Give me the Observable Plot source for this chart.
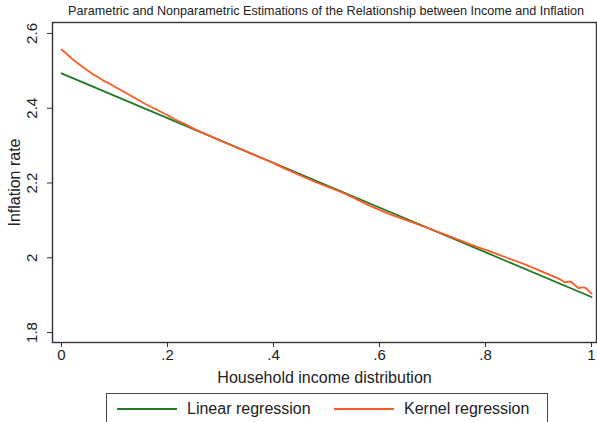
<!DOCTYPE html>
<html>
<head>
<meta charset="utf-8">
<script src="https://cdn.jsdelivr.net/npm/d3@7"></script>
<script src="https://cdn.jsdelivr.net/npm/@observablehq/plot@0.6"></script>
<style>
  html, body { margin: 0; padding: 0; background: #fff; }
  body { width: 597px; height: 422px; overflow: hidden; position: relative; font-family: "Liberation Sans", Arial, sans-serif; color: #222; }
  #title { position: absolute; top: 0; left: 0; width: 597px; height: 20px; }
  #title span { position: absolute; left: 326px; top: 4px; transform: translateX(-50%); white-space: nowrap; font-size: 12.6px; line-height: 14px; color: #222; }
  #chart { position: absolute; top: 20px; left: 0; }
  #legend { position: absolute; top: 393px; left: 106px; width: 442px; height: 40px; border: 1.5px solid #4a4a4a; box-sizing: border-box; }
  #legend .sw { position: absolute; top: 14px; width: 60px; height: 0; border-top: 2px solid; }
  #legend .lb { position: absolute; top: 6px; font-size: 16px; line-height: 18px; white-space: nowrap; color: #222; }
</style>
</head>
<body>
<div id="title"><span></span></div>
<div id="chart"></div>
<div id="legend"></div>
<script>
// ---- data ----
const titleText = "Parametric and Nonparametric Estimations of the Relationship between Income and Inflation";
const xTitle = "Household income distribution";
const yTitle = "Inflation rate";
const seriesNames = ["Linear regression", "Kernel regression"];
const seriesColors = ["#1f7a23", "#ff5a24"];

const linearX = [0, 1];
const linearY = [2.493, 1.895];

const kernelX = [0.00, 0.01, 0.02, 0.03, 0.04, 0.05, 0.06, 0.07, 0.08, 0.09,
  0.10, 0.12, 0.14, 0.16, 0.18, 0.20, 0.22, 0.24, 0.26, 0.28,
  0.30, 0.32, 0.34, 0.36, 0.38, 0.40, 0.42, 0.44, 0.46, 0.48,
  0.50, 0.52, 0.54, 0.56, 0.58, 0.60, 0.62, 0.64, 0.66, 0.68,
  0.70, 0.72, 0.74, 0.76, 0.78, 0.80, 0.82, 0.84, 0.86, 0.88,
  0.90, 0.92, 0.94, 0.95, 0.96, 0.97, 0.975, 0.985, 0.99, 1.00];
const kernelY = [2.557, 2.545, 2.532, 2.521, 2.510, 2.500, 2.490, 2.482, 2.473, 2.466,
  2.458, 2.442, 2.426, 2.410, 2.396, 2.381, 2.366, 2.352, 2.338, 2.326,
  2.313, 2.301, 2.289, 2.277, 2.265, 2.253, 2.239, 2.227, 2.214, 2.202,
  2.191, 2.180, 2.168, 2.154, 2.140, 2.128, 2.116, 2.106, 2.096, 2.085,
  2.075, 2.064, 2.053, 2.042, 2.031, 2.021, 2.011, 2.000, 1.990, 1.979,
  1.967, 1.955, 1.943, 1.934, 1.937, 1.925, 1.919, 1.921, 1.918, 1.904];

const xTicks = [0, 0.2, 0.4, 0.6, 0.8, 1];
const xTickLabels = ["0", ".2", ".4", ".6", ".8", "1"];
const yTicks = [1.8, 2, 2.2, 2.4, 2.6];
const yTickLabels = ["1.8", "2", "2.2", "2.4", "2.6"];

// ---- tables ----
const linear = linearX.map((x, i) => ({x, y: linearY[i]}));
const kernel = kernelX.map((x, i) => ({x, y: kernelY[i]}));
const yLab = yTicks.map((v, i) => ({v, t: yTickLabels[i]}));

document.querySelector("#title span").textContent = titleText;

const plot = Plot.plot({
  width: 597,
  height: 373,
  marginTop: 2,
  marginLeft: 52,
  marginRight: 1,
  marginBottom: 51,
  style: {fontFamily: "Liberation Sans, Arial, sans-serif", color: "#222", background: "#fff"},
  x: {domain: [-0.017, 1.0094]},
  y: {domain: [1.7733, 2.6293]},
  marks: [
    Plot.axisX({ticks: xTicks, tickSize: 5, tickPadding: 2, fontSize: 15, stroke: "#333",
      tickFormat: (d) => xTickLabels[xTicks.indexOf(d)], label: null}),
    Plot.axisY({ticks: yTicks, tickSize: 5, tickFormat: () => "", stroke: "#333", label: null}),
    Plot.text(yLab, {y: "v", text: "t", frameAnchor: "left", dx: -20, rotate: -90,
      textAnchor: "middle", lineAnchor: "middle", fontSize: 15, fill: "#222"}),
    Plot.text([xTitle], {text: (d) => d, frameAnchor: "bottom", dy: 35, lineAnchor: "middle",
      fontSize: 16, fill: "#222"}),
    Plot.text([yTitle], {text: (d) => d, frameAnchor: "left", dx: -38, rotate: -90,
      lineAnchor: "middle", textAnchor: "middle", fontSize: 16, fill: "#222"}),
    Plot.line(linear, {x: "x", y: "y", stroke: seriesColors[0], strokeWidth: 1.8}),
    Plot.line(kernel, {x: "x", y: "y", stroke: seriesColors[1], strokeWidth: 1.8, curve: "linear"}),
    Plot.frame({stroke: "#333", strokeWidth: 1.4})
  ]
});
document.getElementById("chart").appendChild(plot);

// legend
const lg = document.getElementById("legend");
const pos = [{sw: 10, lb: 80}, {sw: 227, lb: 297}];
seriesNames.forEach((name, i) => {
  const s = document.createElement("div");
  s.className = "sw";
  s.style.left = pos[i].sw + "px";
  s.style.borderTopColor = seriesColors[i];
  lg.appendChild(s);
  const l = document.createElement("div");
  l.className = "lb";
  l.style.left = pos[i].lb + "px";
  l.textContent = name;
  lg.appendChild(l);
});
</script>
</body>
</html>
